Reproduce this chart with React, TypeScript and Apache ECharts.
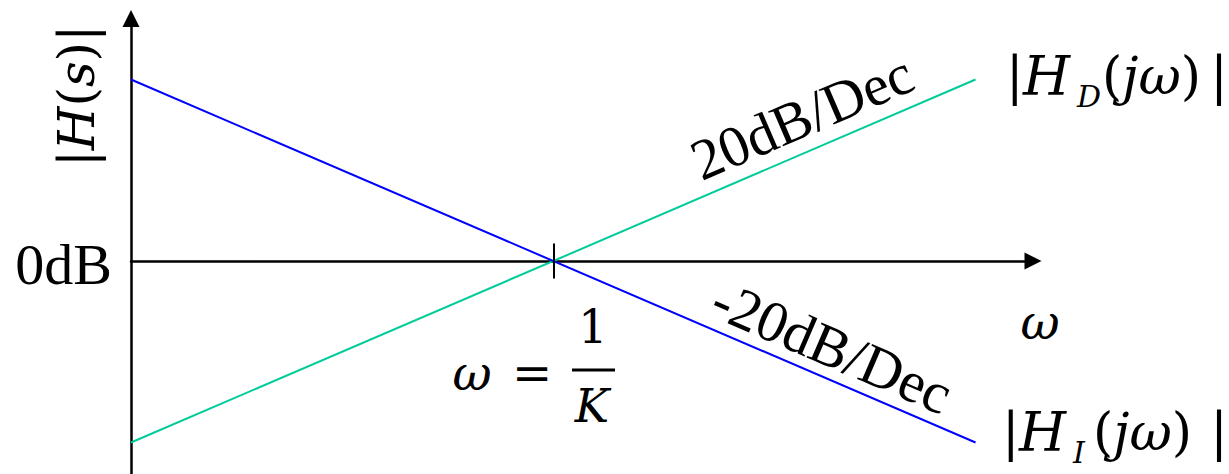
import React, { useEffect, useRef } from "react";
import * as echarts from "echarts";

// Asymptotic Bode magnitude of an ideal integrator and differentiator,
// plotted against log10(ω·K) in decades; both cross 0 dB at ω = 1/K.
const decades = [-1, 1];
const integratorDb = [20, -20]; // |H_I(jω)|, falls 20 dB per decade
const differentiatorDb = [-20, 20]; // |H_D(jω)|, rises 20 dB per decade
const cornerTickDb = [1.93, -1.93]; // small marker across the axis at ω = 1/K

const slopeUpLabel = "20dB/Dec";
const slopeDownLabel = "-20dB/Dec";
const zeroDbLabel = "0dB";

const X_MIN = -1;
const X_MAX = 1.136;
const Y_MIN = -23.47;
const Y_MAX = 26.72;

const MATH = "'DejaVu Serif', serif";
const TEXT = "'Liberation Serif', 'Times New Roman', serif";
const SLOPE_ROT = Math.atan(181.5 / 422.3);

const mathRich = (size: number) => ({
  n: { fontFamily: MATH, fontSize: size, fontStyle: "normal", fill: "#000" },
  i: { fontFamily: MATH, fontSize: size, fontStyle: "italic", fill: "#000" },
});

function mathText(x: number, y: number, text: string, size: number, extra: any = {}) {
  return {
    type: "text",
    x,
    y,
    silent: true,
    ...extra,
    style: {
      text,
      rich: mathRich(size),
      font: `${size}px ${MATH}`,
      fill: "#000",
      align: "left",
      verticalAlign: "middle",
      ...(extra.style || {}),
    },
  };
}

function magnitudeLabel(x0: number, midY: number, sub: string, subDx: number, rest: number) {
  return [
    mathText(x0, midY, "{n||}", 52),
    mathText(x0 + 17, midY, "{i|H}", 54),
    {
      type: "text",
      x: x0 + subDx,
      y: midY + 20,
      silent: true,
      style: {
        text: sub,
        font: `italic 30px ${MATH}`,
        fill: "#000",
        align: "left",
        verticalAlign: "middle",
      },
    },
    mathText(x0 + rest, midY, "{n|(}{i|jω}{n|)}", 52),
    mathText(1219, midY, "{n||}", 52, { style: { align: "center" } }),
  ];
}

export default function App() {
  const ref = useRef<HTMLDivElement>(null);

  useEffect(() => {
    if (!ref.current) return;
    const chart = echarts.init(ref.current, undefined, { renderer: "svg" });

    const axisLine = (onZero: boolean) => ({
      show: true,
      onZero,
      symbol: ["none", "triangle"],
      symbolSize: [17, 17],
      lineStyle: { color: "#000", width: 2.5 },
    });

    chart.setOption({
      animation: false,
      backgroundColor: "#fff",
      grid: { left: 131, right: 196, top: 18.5, bottom: 0, containLabel: false },
      xAxis: {
        type: "value",
        min: X_MIN,
        max: X_MAX,
        axisLine: axisLine(true),
        axisTick: { show: false },
        axisLabel: { show: false },
        splitLine: { show: false },
      },
      yAxis: {
        type: "value",
        min: Y_MIN,
        max: Y_MAX,
        axisLine: axisLine(false),
        axisTick: { show: false },
        axisLabel: { show: false },
        splitLine: { show: false },
      },
      series: [
        {
          name: "|H_D(jω)|",
          type: "line",
          data: decades.map((d, i) => [d, differentiatorDb[i]]),
          symbol: "none",
          lineStyle: { color: "#00cc99", width: 2 },
          z: 3,
          markLine: {
            silent: true,
            symbol: ["none", "none"],
            label: { show: false },
            lineStyle: { color: "#000", width: 2, type: "solid" },
            data: [
              [
                { coord: [0, cornerTickDb[0]] },
                { coord: [0, cornerTickDb[1]] },
              ],
            ],
          },
        },
        {
          name: "|H_I(jω)|",
          type: "line",
          data: decades.map((d, i) => [d, integratorDb[i]]),
          symbol: "none",
          lineStyle: { color: "#0000ff", width: 2 },
          z: 4,
        },
      ],
      graphic: [
        // vertical axis title |H(s)|
        mathText(77, 96, "{n||}{i|H}{n|(}{i|s}{n|)|}", 50, {
          rotation: Math.PI / 2,
          style: { align: "center" },
        }),
        {
          type: "text",
          x: 112,
          y: 264,
          silent: true,
          style: {
            text: zeroDbLabel,
            font: `58px ${TEXT}`,
            fill: "#000",
            align: "right",
            verticalAlign: "middle",
          },
        },
        {
          type: "text",
          x: 802,
          y: 117,
          rotation: SLOPE_ROT,
          silent: true,
          style: {
            text: slopeUpLabel,
            font: `58px ${TEXT}`,
            fill: "#000",
            align: "center",
            verticalAlign: "middle",
          },
        },
        {
          type: "text",
          x: 832,
          y: 347,
          rotation: -SLOPE_ROT,
          silent: true,
          style: {
            text: slopeDownLabel,
            font: `58px ${TEXT}`,
            fill: "#000",
            align: "center",
            verticalAlign: "middle",
          },
        },
        ...magnitudeLabel(1006, 76, "D", 71, 96),
        ...magnitudeLabel(1002, 432, "I", 71, 91),
        // frequency axis symbol
        mathText(1040, 322, "{i|ω}", 48, { style: { align: "center" } }),
        // crossover frequency ω = 1/K
        mathText(472, 373, "{i|ω}", 48, { style: { align: "center" } }),
        mathText(532, 373, "{n|=}", 48, { style: { align: "center" } }),
        {
          type: "line",
          silent: true,
          shape: { x1: 572, y1: 370, x2: 615, y2: 370 },
          style: { stroke: "#000", lineWidth: 3 },
        },
        mathText(593, 327, "{n|1}", 46, { style: { align: "center" } }),
        mathText(592, 406, "{i|K}", 46, { style: { align: "center" } }),
      ],
    });

    return () => chart.dispose();
  }, []);

  return (
    <div
      ref={ref}
      style={{ position: "fixed", left: 0, top: 0, width: 1229, height: 474 }}
    />
  );
}
